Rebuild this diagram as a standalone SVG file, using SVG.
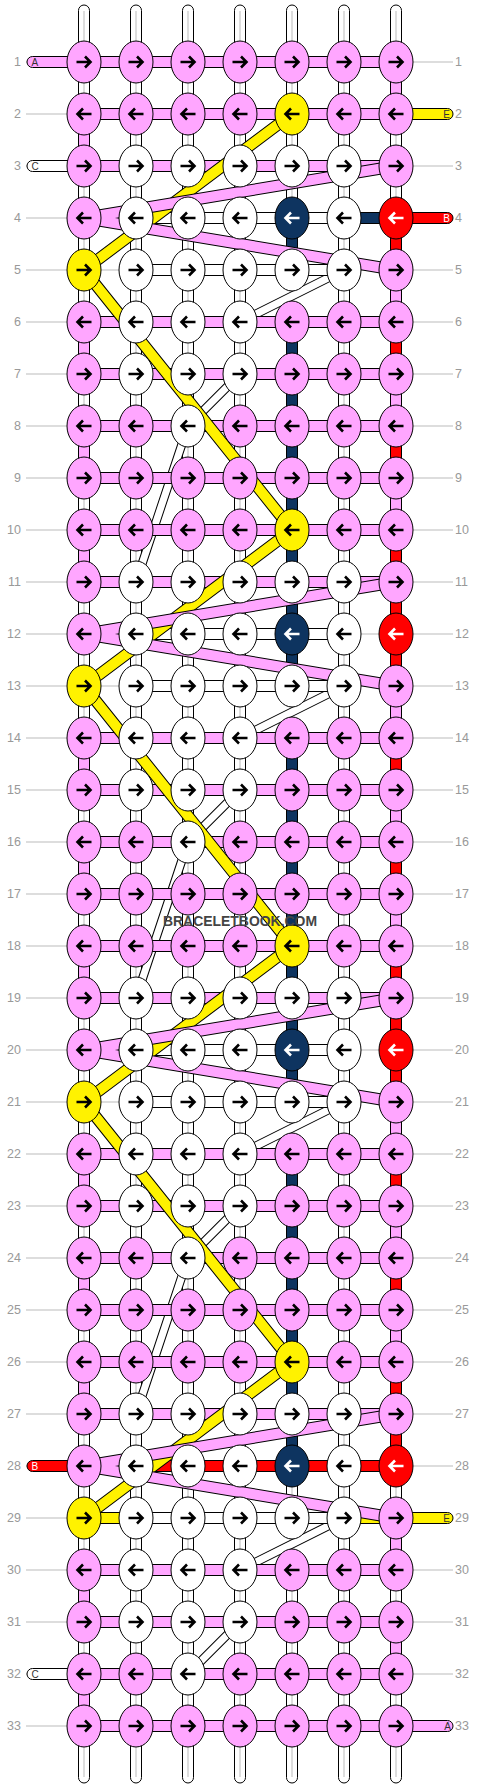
<svg xmlns="http://www.w3.org/2000/svg" width="480" height="1788" viewBox="0 0 480 1788">
<style>
.gl{stroke:#bbb;stroke-width:1;fill:none}
.n{font-family:"Liberation Sans",Arial,sans-serif;font-size:12.5px;fill:#999}
.nl{text-anchor:end}
.k{stroke:#000;stroke-width:1}
.p{fill:#ffa6ff}
.w{fill:#fff}
.y{fill:#fff200}
.d{fill:#0e3460}
.r{fill:#ff0000}
.lb{font-family:"Liberation Sans",Arial,sans-serif;font-size:10px;fill:#333}
.lw{fill:#fff}
.le{text-anchor:end}
ellipse{stroke:#000;stroke-width:1}
use{stroke:#000}
use.aw{stroke:#fff}
.cl{stroke:#bbb;stroke-width:1}
.yo{fill:none;stroke:#000;stroke-width:12;stroke-linejoin:round}
.yf{fill:none;stroke:#fff200;stroke-width:10;stroke-linejoin:round}
.po{fill:none;stroke:#000;stroke-width:12;stroke-linejoin:round}
.pf{fill:none;stroke:#ffa6ff;stroke-width:10;stroke-linejoin:round}
.to{fill:none;stroke:#000;stroke-width:9;stroke-linejoin:round}
.tf{fill:none;stroke:#fff;stroke-width:7;stroke-linejoin:round}
.wm{font-family:"Liberation Sans",Arial,sans-serif;font-weight:bold;font-size:15px;fill:#444}
</style>
<defs>
<path id="R" d="M-7.5,0H6M1,-5.5L6.5,0L1,5.5" fill="none" stroke-width="2.6"/>
<path id="L" d="M7.5,0H-6M-1,-5.5L-6.5,0L-1,5.5" fill="none" stroke-width="2.6"/>
</defs>
<rect width="480" height="1788" fill="#fff"/>
<g id="rowlines">
<path class="gl" d="M26,62H453M26,114H453M26,166H453M26,218H453M26,270H453M26,322H453M26,374H453M26,426H453M26,478H453M26,530H453M26,582H453M26,634H453M26,686H453M26,738H453M26,790H453M26,842H453M26,894H453M26,946H453M26,998H453M26,1050H453M26,1102H453M26,1154H453M26,1206H453M26,1258H453M26,1310H453M26,1362H453M26,1414H453M26,1466H453M26,1518H453M26,1570H453M26,1622H453M26,1674H453M26,1726H453"/>
</g>
<g id="rownumbers" class="n">
<g class="nl">
<text x="21" y="66">1</text><text x="21" y="118">2</text><text x="21" y="170">3</text><text x="21" y="222">4</text><text x="21" y="274">5</text><text x="21" y="326">6</text><text x="21" y="378">7</text><text x="21" y="430">8</text><text x="21" y="482">9</text><text x="21" y="534">10</text><text x="21" y="586">11</text><text x="21" y="638">12</text><text x="21" y="690">13</text><text x="21" y="742">14</text><text x="21" y="794">15</text><text x="21" y="846">16</text><text x="21" y="898">17</text><text x="21" y="950">18</text><text x="21" y="1002">19</text><text x="21" y="1054">20</text><text x="21" y="1106">21</text><text x="21" y="1158">22</text><text x="21" y="1210">23</text><text x="21" y="1262">24</text><text x="21" y="1314">25</text><text x="21" y="1366">26</text><text x="21" y="1418">27</text><text x="21" y="1470">28</text><text x="21" y="1522">29</text><text x="21" y="1574">30</text><text x="21" y="1626">31</text><text x="21" y="1678">32</text><text x="21" y="1730">33</text>
</g>
<text x="455" y="66">1</text><text x="455" y="118">2</text><text x="455" y="170">3</text><text x="455" y="222">4</text><text x="455" y="274">5</text><text x="455" y="326">6</text><text x="455" y="378">7</text><text x="455" y="430">8</text><text x="455" y="482">9</text><text x="455" y="534">10</text><text x="455" y="586">11</text><text x="455" y="638">12</text><text x="455" y="690">13</text><text x="455" y="742">14</text><text x="455" y="794">15</text><text x="455" y="846">16</text><text x="455" y="898">17</text><text x="455" y="950">18</text><text x="455" y="1002">19</text><text x="455" y="1054">20</text><text x="455" y="1106">21</text><text x="455" y="1158">22</text><text x="455" y="1210">23</text><text x="455" y="1262">24</text><text x="455" y="1314">25</text><text x="455" y="1366">26</text><text x="455" y="1418">27</text><text x="455" y="1470">28</text><text x="455" y="1522">29</text><text x="455" y="1574">30</text><text x="455" y="1626">31</text><text x="455" y="1678">32</text><text x="455" y="1730">33</text>
</g>
<g id="connectors">
<g id="strands">
<rect class="w k" x="78.5" y="5" width="11" height="1778" rx="5.5"/>
<rect class="w k" x="130.5" y="5" width="11" height="1778" rx="5.5"/>
<rect class="w k" x="182.5" y="5" width="11" height="1778" rx="5.5"/>
<rect class="w k" x="234.5" y="5" width="11" height="1778" rx="5.5"/>
<rect class="w k" x="286.5" y="5" width="11" height="1778" rx="5.5"/>
<rect class="w k" x="338.5" y="5" width="11" height="1778" rx="5.5"/>
<rect class="w k" x="390.5" y="5" width="11" height="1778" rx="5.5"/>
<path class="cl" d="M84,11V1777M136,11V1777M188,11V1777M240,11V1777M292,11V1777M344,11V1777M396,11V1777"/>
<g fill="#fff">
<rect x="285" y="289" width="14" height="14"/><rect x="285" y="705" width="14" height="14"/><rect x="285" y="1121" width="14" height="14"/><rect x="285" y="1537" width="14" height="14"/>
</g>
</g>
<g id="white-diagonals">
<path class="to" d="M344,270L240,322M240,374L188,426L136,582M344,686L240,738M240,790L188,842L136,998M344,1102L240,1154M240,1206L188,1258L136,1414M344,1518L240,1570M240,1622L188,1674"/>
<path class="tf" d="M344,270L240,322M240,374L188,426L136,582M344,686L240,738M240,790L188,842L136,998M344,1102L240,1154M240,1206L188,1258L136,1414M344,1518L240,1570M240,1622L188,1674"/>
</g>
<g id="vertical-colored" class="k">
<g class="p">
<rect x="78.5" y="129" width="11" height="22"/><rect x="78.5" y="337" width="11" height="22"/><rect x="78.5" y="441" width="11" height="22"/><rect x="78.5" y="545" width="11" height="22"/><rect x="78.5" y="753" width="11" height="22"/><rect x="78.5" y="857" width="11" height="22"/><rect x="78.5" y="961" width="11" height="22"/><rect x="78.5" y="1169" width="11" height="22"/><rect x="78.5" y="1273" width="11" height="22"/><rect x="78.5" y="1377" width="11" height="22"/><rect x="78.5" y="1585" width="11" height="22"/><rect x="78.5" y="1689" width="11" height="22"/>
<rect x="390.5" y="77" width="11" height="22"/><rect x="390.5" y="285" width="11" height="22"/><rect x="390.5" y="389" width="11" height="22"/><rect x="390.5" y="493" width="11" height="22"/><rect x="390.5" y="701" width="11" height="22"/><rect x="390.5" y="805" width="11" height="22"/><rect x="390.5" y="909" width="11" height="22"/><rect x="390.5" y="1117" width="11" height="22"/><rect x="390.5" y="1221" width="11" height="22"/><rect x="390.5" y="1325" width="11" height="22"/><rect x="390.5" y="1533" width="11" height="22"/><rect x="390.5" y="1637" width="11" height="22"/>
</g>
<g class="d">
<rect x="286.5" y="233" width="11" height="22"/><rect x="286.5" y="337" width="11" height="22"/><rect x="286.5" y="389" width="11" height="22"/><rect x="286.5" y="441" width="11" height="22"/><rect x="286.5" y="493" width="11" height="22"/><rect x="286.5" y="545" width="11" height="22"/><rect x="286.5" y="597" width="11" height="22"/><rect x="286.5" y="649" width="11" height="22"/><rect x="286.5" y="753" width="11" height="22"/><rect x="286.5" y="805" width="11" height="22"/><rect x="286.5" y="857" width="11" height="22"/><rect x="286.5" y="909" width="11" height="22"/><rect x="286.5" y="961" width="11" height="22"/><rect x="286.5" y="1013" width="11" height="22"/><rect x="286.5" y="1065" width="11" height="22"/><rect x="286.5" y="1169" width="11" height="22"/><rect x="286.5" y="1221" width="11" height="22"/><rect x="286.5" y="1273" width="11" height="22"/><rect x="286.5" y="1325" width="11" height="22"/><rect x="286.5" y="1377" width="11" height="22"/><rect x="286.5" y="1429" width="11" height="22"/>
</g>
<g class="r">
<rect x="390.5" y="233" width="11" height="22"/><rect x="390.5" y="337" width="11" height="22"/><rect x="390.5" y="441" width="11" height="22"/><rect x="390.5" y="545" width="11" height="22"/><rect x="390.5" y="597" width="11" height="22"/><rect x="390.5" y="649" width="11" height="22"/><rect x="390.5" y="753" width="11" height="22"/><rect x="390.5" y="857" width="11" height="22"/><rect x="390.5" y="961" width="11" height="22"/><rect x="390.5" y="1013" width="11" height="22"/><rect x="390.5" y="1065" width="11" height="22"/><rect x="390.5" y="1169" width="11" height="22"/><rect x="390.5" y="1273" width="11" height="22"/><rect x="390.5" y="1377" width="11" height="22"/><rect x="390.5" y="1429" width="11" height="22"/>
</g>
</g>
<g id="horizontal" class="k">
<g class="p">
<rect x="95" y="56.5" width="290" height="11"/><rect x="95" y="108.5" width="290" height="11"/><rect x="95" y="160.5" width="290" height="11"/><rect x="95" y="316.5" width="290" height="11"/><rect x="95" y="368.5" width="290" height="11"/><rect x="95" y="420.5" width="290" height="11"/><rect x="95" y="472.5" width="290" height="11"/><rect x="95" y="524.5" width="290" height="11"/><rect x="95" y="576.5" width="290" height="11"/><rect x="95" y="732.5" width="290" height="11"/><rect x="95" y="784.5" width="290" height="11"/><rect x="95" y="836.5" width="290" height="11"/><rect x="95" y="888.5" width="290" height="11"/><rect x="95" y="940.5" width="290" height="11"/><rect x="95" y="992.5" width="290" height="11"/><rect x="95" y="1148.5" width="290" height="11"/><rect x="95" y="1200.5" width="290" height="11"/><rect x="95" y="1252.5" width="290" height="11"/><rect x="95" y="1304.5" width="290" height="11"/><rect x="95" y="1356.5" width="290" height="11"/><rect x="95" y="1408.5" width="290" height="11"/><rect x="95" y="1564.5" width="290" height="11"/><rect x="95" y="1616.5" width="290" height="11"/><rect x="95" y="1668.5" width="290" height="11"/><rect x="95" y="1720.5" width="290" height="11"/>
<rect x="99" y="212.5" width="22" height="11"/><rect x="99" y="628.5" width="22" height="11"/><rect x="99" y="1044.5" width="22" height="11"/><rect x="99" y="1460.5" width="22" height="11"/>
</g>
<g class="w">
<rect x="151" y="212.5" width="22" height="11"/><rect x="203" y="212.5" width="22" height="11"/><rect x="255" y="212.5" width="22" height="11"/><rect x="307" y="212.5" width="22" height="11"/>
<rect x="151" y="628.5" width="22" height="11"/><rect x="203" y="628.5" width="22" height="11"/><rect x="255" y="628.5" width="22" height="11"/><rect x="307" y="628.5" width="22" height="11"/>
<rect x="151" y="1044.5" width="22" height="11"/><rect x="203" y="1044.5" width="22" height="11"/><rect x="255" y="1044.5" width="22" height="11"/><rect x="307" y="1044.5" width="22" height="11"/>
<rect x="151" y="264.5" width="22" height="11"/><rect x="203" y="264.5" width="22" height="11"/><rect x="255" y="264.5" width="22" height="11"/><rect x="307" y="264.5" width="22" height="11"/>
<rect x="151" y="680.5" width="22" height="11"/><rect x="203" y="680.5" width="22" height="11"/><rect x="255" y="680.5" width="22" height="11"/><rect x="307" y="680.5" width="22" height="11"/>
<rect x="151" y="1096.5" width="22" height="11"/><rect x="203" y="1096.5" width="22" height="11"/><rect x="255" y="1096.5" width="22" height="11"/><rect x="307" y="1096.5" width="22" height="11"/>
<rect x="151" y="1512.5" width="22" height="11"/><rect x="203" y="1512.5" width="22" height="11"/><rect x="255" y="1512.5" width="22" height="11"/><rect x="307" y="1512.5" width="22" height="11"/>
</g>
<rect class="d" x="359" y="212.5" width="22" height="11"/>
<g class="r">
<rect x="151" y="1460.5" width="22" height="11"/><rect x="203" y="1460.5" width="22" height="11"/><rect x="255" y="1460.5" width="22" height="11"/><rect x="307" y="1460.5" width="22" height="11"/><rect x="359" y="1460.5" width="22" height="11"/>
</g>
<g class="y">
<rect x="99" y="1512.5" width="22" height="11"/><rect x="359" y="1512.5" width="22" height="11"/>
</g>
</g>
<g id="edge-threads">
<rect class="p k" x="27" y="56.5" width="50" height="11" rx="5.5"/><text class="lb" x="31.5" y="65.5">A</text>
<rect class="y k" x="403" y="108.5" width="50" height="11" rx="5.5"/><text class="lb le" x="450" y="117.5">E</text>
<rect class="w k" x="27" y="160.5" width="50" height="11" rx="5.5"/><text class="lb" x="31.5" y="169.5">C</text>
<rect class="r k" x="403" y="212.5" width="50" height="11" rx="5.5"/><text class="lb le lw" x="450" y="221.5">B</text>
<rect class="r k" x="27" y="1460.5" width="50" height="11" rx="5.5"/><text class="lb lw" x="31.5" y="1469.5">B</text>
<rect class="y k" x="403" y="1512.5" width="50" height="11" rx="5.5"/><text class="lb le" x="450" y="1521.5">E</text>
<rect class="w k" x="27" y="1668.5" width="50" height="11" rx="5.5"/><text class="lb" x="31.5" y="1677.5">C</text>
<rect class="p k" x="403" y="1720.5" width="50" height="11" rx="5.5"/><text class="lb le" x="451" y="1729.5">A</text>
</g>
<g id="yellow-diagonals">
<path class="yo" d="M292,114L84,270L292,530L84,686L292,946L84,1102L292,1362L84,1518"/>
<path class="yf" d="M292,114L84,270L292,530L84,686L292,946L84,1102L292,1362L84,1518"/>
</g>
<g id="pink-diagonals">
<path class="po" d="M396,166L84,218L396,270M396,582L84,634L396,686M396,998L84,1050L396,1102M396,1414L84,1466L396,1518"/>
<path class="pf" d="M396,166L84,218L396,270M396,582L84,634L396,686M396,998L84,1050L396,1102M396,1414L84,1466L396,1518"/>
</g>
</g>
<g id="knots">
<g id="k1-1" transform="translate(84,62)"><ellipse class="p" rx="17" ry="21"/><use href="#R"/></g>
<g id="k1-2" transform="translate(136,62)"><ellipse class="p" rx="17" ry="21"/><use href="#R"/></g>
<g id="k1-3" transform="translate(188,62)"><ellipse class="p" rx="17" ry="21"/><use href="#R"/></g>
<g id="k1-4" transform="translate(240,62)"><ellipse class="p" rx="17" ry="21"/><use href="#R"/></g>
<g id="k1-5" transform="translate(292,62)"><ellipse class="p" rx="17" ry="21"/><use href="#R"/></g>
<g id="k1-6" transform="translate(344,62)"><ellipse class="p" rx="17" ry="21"/><use href="#R"/></g>
<g id="k1-7" transform="translate(396,62)"><ellipse class="p" rx="17" ry="21"/><use href="#R"/></g>
<g id="k2-1" transform="translate(84,114)"><ellipse class="p" rx="17" ry="21"/><use href="#L"/></g>
<g id="k2-2" transform="translate(136,114)"><ellipse class="p" rx="17" ry="21"/><use href="#L"/></g>
<g id="k2-3" transform="translate(188,114)"><ellipse class="p" rx="17" ry="21"/><use href="#L"/></g>
<g id="k2-4" transform="translate(240,114)"><ellipse class="p" rx="17" ry="21"/><use href="#L"/></g>
<g id="k2-5" transform="translate(292,114)"><ellipse class="y" rx="17" ry="21"/><use href="#L"/></g>
<g id="k2-6" transform="translate(344,114)"><ellipse class="p" rx="17" ry="21"/><use href="#L"/></g>
<g id="k2-7" transform="translate(396,114)"><ellipse class="p" rx="17" ry="21"/><use href="#L"/></g>
<g id="k3-1" transform="translate(84,166)"><ellipse class="p" rx="17" ry="21"/><use href="#R"/></g>
<g id="k3-2" transform="translate(136,166)"><ellipse class="w" rx="17" ry="21"/><use href="#R"/></g>
<g id="k3-3" transform="translate(188,166)"><ellipse class="w" rx="17" ry="21"/><use href="#R"/></g>
<g id="k3-4" transform="translate(240,166)"><ellipse class="w" rx="17" ry="21"/><use href="#R"/></g>
<g id="k3-5" transform="translate(292,166)"><ellipse class="w" rx="17" ry="21"/><use href="#R"/></g>
<g id="k3-6" transform="translate(344,166)"><ellipse class="w" rx="17" ry="21"/><use href="#R"/></g>
<g id="k3-7" transform="translate(396,166)"><ellipse class="p" rx="17" ry="21"/><use href="#R"/></g>
<g id="k4-1" transform="translate(84,218)"><ellipse class="p" rx="17" ry="21"/><use href="#L"/></g>
<g id="k4-2" transform="translate(136,218)"><ellipse class="w" rx="17" ry="21"/><use href="#L"/></g>
<g id="k4-3" transform="translate(188,218)"><ellipse class="w" rx="17" ry="21"/><use href="#L"/></g>
<g id="k4-4" transform="translate(240,218)"><ellipse class="w" rx="17" ry="21"/><use href="#L"/></g>
<g id="k4-5" transform="translate(292,218)"><ellipse class="d" rx="17" ry="21"/><use class="aw" href="#L"/></g>
<g id="k4-6" transform="translate(344,218)"><ellipse class="w" rx="17" ry="21"/><use href="#L"/></g>
<g id="k4-7" transform="translate(396,218)"><ellipse class="r" rx="17" ry="21"/><use class="aw" href="#L"/></g>
<g id="k5-1" transform="translate(84,270)"><ellipse class="y" rx="17" ry="21"/><use href="#R"/></g>
<g id="k5-2" transform="translate(136,270)"><ellipse class="w" rx="17" ry="21"/><use href="#R"/></g>
<g id="k5-3" transform="translate(188,270)"><ellipse class="w" rx="17" ry="21"/><use href="#R"/></g>
<g id="k5-4" transform="translate(240,270)"><ellipse class="w" rx="17" ry="21"/><use href="#R"/></g>
<g id="k5-5" transform="translate(292,270)"><ellipse class="w" rx="17" ry="21"/><use href="#R"/></g>
<g id="k5-6" transform="translate(344,270)"><ellipse class="w" rx="17" ry="21"/><use href="#R"/></g>
<g id="k5-7" transform="translate(396,270)"><ellipse class="p" rx="17" ry="21"/><use href="#R"/></g>
<g id="k6-1" transform="translate(84,322)"><ellipse class="p" rx="17" ry="21"/><use href="#L"/></g>
<g id="k6-2" transform="translate(136,322)"><ellipse class="w" rx="17" ry="21"/><use href="#L"/></g>
<g id="k6-3" transform="translate(188,322)"><ellipse class="w" rx="17" ry="21"/><use href="#L"/></g>
<g id="k6-4" transform="translate(240,322)"><ellipse class="w" rx="17" ry="21"/><use href="#L"/></g>
<g id="k6-5" transform="translate(292,322)"><ellipse class="p" rx="17" ry="21"/><use href="#L"/></g>
<g id="k6-6" transform="translate(344,322)"><ellipse class="p" rx="17" ry="21"/><use href="#L"/></g>
<g id="k6-7" transform="translate(396,322)"><ellipse class="p" rx="17" ry="21"/><use href="#L"/></g>
<g id="k7-1" transform="translate(84,374)"><ellipse class="p" rx="17" ry="21"/><use href="#R"/></g>
<g id="k7-2" transform="translate(136,374)"><ellipse class="w" rx="17" ry="21"/><use href="#R"/></g>
<g id="k7-3" transform="translate(188,374)"><ellipse class="w" rx="17" ry="21"/><use href="#R"/></g>
<g id="k7-4" transform="translate(240,374)"><ellipse class="w" rx="17" ry="21"/><use href="#R"/></g>
<g id="k7-5" transform="translate(292,374)"><ellipse class="p" rx="17" ry="21"/><use href="#R"/></g>
<g id="k7-6" transform="translate(344,374)"><ellipse class="p" rx="17" ry="21"/><use href="#R"/></g>
<g id="k7-7" transform="translate(396,374)"><ellipse class="p" rx="17" ry="21"/><use href="#R"/></g>
<g id="k8-1" transform="translate(84,426)"><ellipse class="p" rx="17" ry="21"/><use href="#L"/></g>
<g id="k8-2" transform="translate(136,426)"><ellipse class="p" rx="17" ry="21"/><use href="#L"/></g>
<g id="k8-3" transform="translate(188,426)"><ellipse class="w" rx="17" ry="21"/><use href="#L"/></g>
<g id="k8-4" transform="translate(240,426)"><ellipse class="p" rx="17" ry="21"/><use href="#L"/></g>
<g id="k8-5" transform="translate(292,426)"><ellipse class="p" rx="17" ry="21"/><use href="#L"/></g>
<g id="k8-6" transform="translate(344,426)"><ellipse class="p" rx="17" ry="21"/><use href="#L"/></g>
<g id="k8-7" transform="translate(396,426)"><ellipse class="p" rx="17" ry="21"/><use href="#L"/></g>
<g id="k9-1" transform="translate(84,478)"><ellipse class="p" rx="17" ry="21"/><use href="#R"/></g>
<g id="k9-2" transform="translate(136,478)"><ellipse class="p" rx="17" ry="21"/><use href="#R"/></g>
<g id="k9-3" transform="translate(188,478)"><ellipse class="p" rx="17" ry="21"/><use href="#R"/></g>
<g id="k9-4" transform="translate(240,478)"><ellipse class="p" rx="17" ry="21"/><use href="#R"/></g>
<g id="k9-5" transform="translate(292,478)"><ellipse class="p" rx="17" ry="21"/><use href="#R"/></g>
<g id="k9-6" transform="translate(344,478)"><ellipse class="p" rx="17" ry="21"/><use href="#R"/></g>
<g id="k9-7" transform="translate(396,478)"><ellipse class="p" rx="17" ry="21"/><use href="#R"/></g>
<g id="k10-1" transform="translate(84,530)"><ellipse class="p" rx="17" ry="21"/><use href="#L"/></g>
<g id="k10-2" transform="translate(136,530)"><ellipse class="p" rx="17" ry="21"/><use href="#L"/></g>
<g id="k10-3" transform="translate(188,530)"><ellipse class="p" rx="17" ry="21"/><use href="#L"/></g>
<g id="k10-4" transform="translate(240,530)"><ellipse class="p" rx="17" ry="21"/><use href="#L"/></g>
<g id="k10-5" transform="translate(292,530)"><ellipse class="y" rx="17" ry="21"/><use href="#L"/></g>
<g id="k10-6" transform="translate(344,530)"><ellipse class="p" rx="17" ry="21"/><use href="#L"/></g>
<g id="k10-7" transform="translate(396,530)"><ellipse class="p" rx="17" ry="21"/><use href="#L"/></g>
<g id="k11-1" transform="translate(84,582)"><ellipse class="p" rx="17" ry="21"/><use href="#R"/></g>
<g id="k11-2" transform="translate(136,582)"><ellipse class="w" rx="17" ry="21"/><use href="#R"/></g>
<g id="k11-3" transform="translate(188,582)"><ellipse class="w" rx="17" ry="21"/><use href="#R"/></g>
<g id="k11-4" transform="translate(240,582)"><ellipse class="w" rx="17" ry="21"/><use href="#R"/></g>
<g id="k11-5" transform="translate(292,582)"><ellipse class="w" rx="17" ry="21"/><use href="#R"/></g>
<g id="k11-6" transform="translate(344,582)"><ellipse class="w" rx="17" ry="21"/><use href="#R"/></g>
<g id="k11-7" transform="translate(396,582)"><ellipse class="p" rx="17" ry="21"/><use href="#R"/></g>
<g id="k12-1" transform="translate(84,634)"><ellipse class="p" rx="17" ry="21"/><use href="#L"/></g>
<g id="k12-2" transform="translate(136,634)"><ellipse class="w" rx="17" ry="21"/><use href="#L"/></g>
<g id="k12-3" transform="translate(188,634)"><ellipse class="w" rx="17" ry="21"/><use href="#L"/></g>
<g id="k12-4" transform="translate(240,634)"><ellipse class="w" rx="17" ry="21"/><use href="#L"/></g>
<g id="k12-5" transform="translate(292,634)"><ellipse class="d" rx="17" ry="21"/><use class="aw" href="#L"/></g>
<g id="k12-6" transform="translate(344,634)"><ellipse class="w" rx="17" ry="21"/><use href="#L"/></g>
<g id="k12-7" transform="translate(396,634)"><ellipse class="r" rx="17" ry="21"/><use class="aw" href="#L"/></g>
<g id="k13-1" transform="translate(84,686)"><ellipse class="y" rx="17" ry="21"/><use href="#R"/></g>
<g id="k13-2" transform="translate(136,686)"><ellipse class="w" rx="17" ry="21"/><use href="#R"/></g>
<g id="k13-3" transform="translate(188,686)"><ellipse class="w" rx="17" ry="21"/><use href="#R"/></g>
<g id="k13-4" transform="translate(240,686)"><ellipse class="w" rx="17" ry="21"/><use href="#R"/></g>
<g id="k13-5" transform="translate(292,686)"><ellipse class="w" rx="17" ry="21"/><use href="#R"/></g>
<g id="k13-6" transform="translate(344,686)"><ellipse class="w" rx="17" ry="21"/><use href="#R"/></g>
<g id="k13-7" transform="translate(396,686)"><ellipse class="p" rx="17" ry="21"/><use href="#R"/></g>
<g id="k14-1" transform="translate(84,738)"><ellipse class="p" rx="17" ry="21"/><use href="#L"/></g>
<g id="k14-2" transform="translate(136,738)"><ellipse class="w" rx="17" ry="21"/><use href="#L"/></g>
<g id="k14-3" transform="translate(188,738)"><ellipse class="w" rx="17" ry="21"/><use href="#L"/></g>
<g id="k14-4" transform="translate(240,738)"><ellipse class="w" rx="17" ry="21"/><use href="#L"/></g>
<g id="k14-5" transform="translate(292,738)"><ellipse class="p" rx="17" ry="21"/><use href="#L"/></g>
<g id="k14-6" transform="translate(344,738)"><ellipse class="p" rx="17" ry="21"/><use href="#L"/></g>
<g id="k14-7" transform="translate(396,738)"><ellipse class="p" rx="17" ry="21"/><use href="#L"/></g>
<g id="k15-1" transform="translate(84,790)"><ellipse class="p" rx="17" ry="21"/><use href="#R"/></g>
<g id="k15-2" transform="translate(136,790)"><ellipse class="w" rx="17" ry="21"/><use href="#R"/></g>
<g id="k15-3" transform="translate(188,790)"><ellipse class="w" rx="17" ry="21"/><use href="#R"/></g>
<g id="k15-4" transform="translate(240,790)"><ellipse class="w" rx="17" ry="21"/><use href="#R"/></g>
<g id="k15-5" transform="translate(292,790)"><ellipse class="p" rx="17" ry="21"/><use href="#R"/></g>
<g id="k15-6" transform="translate(344,790)"><ellipse class="p" rx="17" ry="21"/><use href="#R"/></g>
<g id="k15-7" transform="translate(396,790)"><ellipse class="p" rx="17" ry="21"/><use href="#R"/></g>
<g id="k16-1" transform="translate(84,842)"><ellipse class="p" rx="17" ry="21"/><use href="#L"/></g>
<g id="k16-2" transform="translate(136,842)"><ellipse class="p" rx="17" ry="21"/><use href="#L"/></g>
<g id="k16-3" transform="translate(188,842)"><ellipse class="w" rx="17" ry="21"/><use href="#L"/></g>
<g id="k16-4" transform="translate(240,842)"><ellipse class="p" rx="17" ry="21"/><use href="#L"/></g>
<g id="k16-5" transform="translate(292,842)"><ellipse class="p" rx="17" ry="21"/><use href="#L"/></g>
<g id="k16-6" transform="translate(344,842)"><ellipse class="p" rx="17" ry="21"/><use href="#L"/></g>
<g id="k16-7" transform="translate(396,842)"><ellipse class="p" rx="17" ry="21"/><use href="#L"/></g>
<g id="k17-1" transform="translate(84,894)"><ellipse class="p" rx="17" ry="21"/><use href="#R"/></g>
<g id="k17-2" transform="translate(136,894)"><ellipse class="p" rx="17" ry="21"/><use href="#R"/></g>
<g id="k17-3" transform="translate(188,894)"><ellipse class="p" rx="17" ry="21"/><use href="#R"/></g>
<g id="k17-4" transform="translate(240,894)"><ellipse class="p" rx="17" ry="21"/><use href="#R"/></g>
<g id="k17-5" transform="translate(292,894)"><ellipse class="p" rx="17" ry="21"/><use href="#R"/></g>
<g id="k17-6" transform="translate(344,894)"><ellipse class="p" rx="17" ry="21"/><use href="#R"/></g>
<g id="k17-7" transform="translate(396,894)"><ellipse class="p" rx="17" ry="21"/><use href="#R"/></g>
<g id="k18-1" transform="translate(84,946)"><ellipse class="p" rx="17" ry="21"/><use href="#L"/></g>
<g id="k18-2" transform="translate(136,946)"><ellipse class="p" rx="17" ry="21"/><use href="#L"/></g>
<g id="k18-3" transform="translate(188,946)"><ellipse class="p" rx="17" ry="21"/><use href="#L"/></g>
<g id="k18-4" transform="translate(240,946)"><ellipse class="p" rx="17" ry="21"/><use href="#L"/></g>
<g id="k18-5" transform="translate(292,946)"><ellipse class="y" rx="17" ry="21"/><use href="#L"/></g>
<g id="k18-6" transform="translate(344,946)"><ellipse class="p" rx="17" ry="21"/><use href="#L"/></g>
<g id="k18-7" transform="translate(396,946)"><ellipse class="p" rx="17" ry="21"/><use href="#L"/></g>
<g id="k19-1" transform="translate(84,998)"><ellipse class="p" rx="17" ry="21"/><use href="#R"/></g>
<g id="k19-2" transform="translate(136,998)"><ellipse class="w" rx="17" ry="21"/><use href="#R"/></g>
<g id="k19-3" transform="translate(188,998)"><ellipse class="w" rx="17" ry="21"/><use href="#R"/></g>
<g id="k19-4" transform="translate(240,998)"><ellipse class="w" rx="17" ry="21"/><use href="#R"/></g>
<g id="k19-5" transform="translate(292,998)"><ellipse class="w" rx="17" ry="21"/><use href="#R"/></g>
<g id="k19-6" transform="translate(344,998)"><ellipse class="w" rx="17" ry="21"/><use href="#R"/></g>
<g id="k19-7" transform="translate(396,998)"><ellipse class="p" rx="17" ry="21"/><use href="#R"/></g>
<g id="k20-1" transform="translate(84,1050)"><ellipse class="p" rx="17" ry="21"/><use href="#L"/></g>
<g id="k20-2" transform="translate(136,1050)"><ellipse class="w" rx="17" ry="21"/><use href="#L"/></g>
<g id="k20-3" transform="translate(188,1050)"><ellipse class="w" rx="17" ry="21"/><use href="#L"/></g>
<g id="k20-4" transform="translate(240,1050)"><ellipse class="w" rx="17" ry="21"/><use href="#L"/></g>
<g id="k20-5" transform="translate(292,1050)"><ellipse class="d" rx="17" ry="21"/><use class="aw" href="#L"/></g>
<g id="k20-6" transform="translate(344,1050)"><ellipse class="w" rx="17" ry="21"/><use href="#L"/></g>
<g id="k20-7" transform="translate(396,1050)"><ellipse class="r" rx="17" ry="21"/><use class="aw" href="#L"/></g>
<g id="k21-1" transform="translate(84,1102)"><ellipse class="y" rx="17" ry="21"/><use href="#R"/></g>
<g id="k21-2" transform="translate(136,1102)"><ellipse class="w" rx="17" ry="21"/><use href="#R"/></g>
<g id="k21-3" transform="translate(188,1102)"><ellipse class="w" rx="17" ry="21"/><use href="#R"/></g>
<g id="k21-4" transform="translate(240,1102)"><ellipse class="w" rx="17" ry="21"/><use href="#R"/></g>
<g id="k21-5" transform="translate(292,1102)"><ellipse class="w" rx="17" ry="21"/><use href="#R"/></g>
<g id="k21-6" transform="translate(344,1102)"><ellipse class="w" rx="17" ry="21"/><use href="#R"/></g>
<g id="k21-7" transform="translate(396,1102)"><ellipse class="p" rx="17" ry="21"/><use href="#R"/></g>
<g id="k22-1" transform="translate(84,1154)"><ellipse class="p" rx="17" ry="21"/><use href="#L"/></g>
<g id="k22-2" transform="translate(136,1154)"><ellipse class="w" rx="17" ry="21"/><use href="#L"/></g>
<g id="k22-3" transform="translate(188,1154)"><ellipse class="w" rx="17" ry="21"/><use href="#L"/></g>
<g id="k22-4" transform="translate(240,1154)"><ellipse class="w" rx="17" ry="21"/><use href="#L"/></g>
<g id="k22-5" transform="translate(292,1154)"><ellipse class="p" rx="17" ry="21"/><use href="#L"/></g>
<g id="k22-6" transform="translate(344,1154)"><ellipse class="p" rx="17" ry="21"/><use href="#L"/></g>
<g id="k22-7" transform="translate(396,1154)"><ellipse class="p" rx="17" ry="21"/><use href="#L"/></g>
<g id="k23-1" transform="translate(84,1206)"><ellipse class="p" rx="17" ry="21"/><use href="#R"/></g>
<g id="k23-2" transform="translate(136,1206)"><ellipse class="w" rx="17" ry="21"/><use href="#R"/></g>
<g id="k23-3" transform="translate(188,1206)"><ellipse class="w" rx="17" ry="21"/><use href="#R"/></g>
<g id="k23-4" transform="translate(240,1206)"><ellipse class="w" rx="17" ry="21"/><use href="#R"/></g>
<g id="k23-5" transform="translate(292,1206)"><ellipse class="p" rx="17" ry="21"/><use href="#R"/></g>
<g id="k23-6" transform="translate(344,1206)"><ellipse class="p" rx="17" ry="21"/><use href="#R"/></g>
<g id="k23-7" transform="translate(396,1206)"><ellipse class="p" rx="17" ry="21"/><use href="#R"/></g>
<g id="k24-1" transform="translate(84,1258)"><ellipse class="p" rx="17" ry="21"/><use href="#L"/></g>
<g id="k24-2" transform="translate(136,1258)"><ellipse class="p" rx="17" ry="21"/><use href="#L"/></g>
<g id="k24-3" transform="translate(188,1258)"><ellipse class="w" rx="17" ry="21"/><use href="#L"/></g>
<g id="k24-4" transform="translate(240,1258)"><ellipse class="p" rx="17" ry="21"/><use href="#L"/></g>
<g id="k24-5" transform="translate(292,1258)"><ellipse class="p" rx="17" ry="21"/><use href="#L"/></g>
<g id="k24-6" transform="translate(344,1258)"><ellipse class="p" rx="17" ry="21"/><use href="#L"/></g>
<g id="k24-7" transform="translate(396,1258)"><ellipse class="p" rx="17" ry="21"/><use href="#L"/></g>
<g id="k25-1" transform="translate(84,1310)"><ellipse class="p" rx="17" ry="21"/><use href="#R"/></g>
<g id="k25-2" transform="translate(136,1310)"><ellipse class="p" rx="17" ry="21"/><use href="#R"/></g>
<g id="k25-3" transform="translate(188,1310)"><ellipse class="p" rx="17" ry="21"/><use href="#R"/></g>
<g id="k25-4" transform="translate(240,1310)"><ellipse class="p" rx="17" ry="21"/><use href="#R"/></g>
<g id="k25-5" transform="translate(292,1310)"><ellipse class="p" rx="17" ry="21"/><use href="#R"/></g>
<g id="k25-6" transform="translate(344,1310)"><ellipse class="p" rx="17" ry="21"/><use href="#R"/></g>
<g id="k25-7" transform="translate(396,1310)"><ellipse class="p" rx="17" ry="21"/><use href="#R"/></g>
<g id="k26-1" transform="translate(84,1362)"><ellipse class="p" rx="17" ry="21"/><use href="#L"/></g>
<g id="k26-2" transform="translate(136,1362)"><ellipse class="p" rx="17" ry="21"/><use href="#L"/></g>
<g id="k26-3" transform="translate(188,1362)"><ellipse class="p" rx="17" ry="21"/><use href="#L"/></g>
<g id="k26-4" transform="translate(240,1362)"><ellipse class="p" rx="17" ry="21"/><use href="#L"/></g>
<g id="k26-5" transform="translate(292,1362)"><ellipse class="y" rx="17" ry="21"/><use href="#L"/></g>
<g id="k26-6" transform="translate(344,1362)"><ellipse class="p" rx="17" ry="21"/><use href="#L"/></g>
<g id="k26-7" transform="translate(396,1362)"><ellipse class="p" rx="17" ry="21"/><use href="#L"/></g>
<g id="k27-1" transform="translate(84,1414)"><ellipse class="p" rx="17" ry="21"/><use href="#R"/></g>
<g id="k27-2" transform="translate(136,1414)"><ellipse class="w" rx="17" ry="21"/><use href="#R"/></g>
<g id="k27-3" transform="translate(188,1414)"><ellipse class="w" rx="17" ry="21"/><use href="#R"/></g>
<g id="k27-4" transform="translate(240,1414)"><ellipse class="w" rx="17" ry="21"/><use href="#R"/></g>
<g id="k27-5" transform="translate(292,1414)"><ellipse class="w" rx="17" ry="21"/><use href="#R"/></g>
<g id="k27-6" transform="translate(344,1414)"><ellipse class="w" rx="17" ry="21"/><use href="#R"/></g>
<g id="k27-7" transform="translate(396,1414)"><ellipse class="p" rx="17" ry="21"/><use href="#R"/></g>
<g id="k28-1" transform="translate(84,1466)"><ellipse class="p" rx="17" ry="21"/><use href="#L"/></g>
<g id="k28-2" transform="translate(136,1466)"><ellipse class="w" rx="17" ry="21"/><use href="#L"/></g>
<g id="k28-3" transform="translate(188,1466)"><ellipse class="w" rx="17" ry="21"/><use href="#L"/></g>
<g id="k28-4" transform="translate(240,1466)"><ellipse class="w" rx="17" ry="21"/><use href="#L"/></g>
<g id="k28-5" transform="translate(292,1466)"><ellipse class="d" rx="17" ry="21"/><use class="aw" href="#L"/></g>
<g id="k28-6" transform="translate(344,1466)"><ellipse class="w" rx="17" ry="21"/><use href="#L"/></g>
<g id="k28-7" transform="translate(396,1466)"><ellipse class="r" rx="17" ry="21"/><use class="aw" href="#L"/></g>
<g id="k29-1" transform="translate(84,1518)"><ellipse class="y" rx="17" ry="21"/><use href="#R"/></g>
<g id="k29-2" transform="translate(136,1518)"><ellipse class="w" rx="17" ry="21"/><use href="#R"/></g>
<g id="k29-3" transform="translate(188,1518)"><ellipse class="w" rx="17" ry="21"/><use href="#R"/></g>
<g id="k29-4" transform="translate(240,1518)"><ellipse class="w" rx="17" ry="21"/><use href="#R"/></g>
<g id="k29-5" transform="translate(292,1518)"><ellipse class="w" rx="17" ry="21"/><use href="#R"/></g>
<g id="k29-6" transform="translate(344,1518)"><ellipse class="w" rx="17" ry="21"/><use href="#R"/></g>
<g id="k29-7" transform="translate(396,1518)"><ellipse class="p" rx="17" ry="21"/><use href="#R"/></g>
<g id="k30-1" transform="translate(84,1570)"><ellipse class="p" rx="17" ry="21"/><use href="#L"/></g>
<g id="k30-2" transform="translate(136,1570)"><ellipse class="w" rx="17" ry="21"/><use href="#L"/></g>
<g id="k30-3" transform="translate(188,1570)"><ellipse class="w" rx="17" ry="21"/><use href="#L"/></g>
<g id="k30-4" transform="translate(240,1570)"><ellipse class="w" rx="17" ry="21"/><use href="#L"/></g>
<g id="k30-5" transform="translate(292,1570)"><ellipse class="p" rx="17" ry="21"/><use href="#L"/></g>
<g id="k30-6" transform="translate(344,1570)"><ellipse class="p" rx="17" ry="21"/><use href="#L"/></g>
<g id="k30-7" transform="translate(396,1570)"><ellipse class="p" rx="17" ry="21"/><use href="#L"/></g>
<g id="k31-1" transform="translate(84,1622)"><ellipse class="p" rx="17" ry="21"/><use href="#R"/></g>
<g id="k31-2" transform="translate(136,1622)"><ellipse class="w" rx="17" ry="21"/><use href="#R"/></g>
<g id="k31-3" transform="translate(188,1622)"><ellipse class="w" rx="17" ry="21"/><use href="#R"/></g>
<g id="k31-4" transform="translate(240,1622)"><ellipse class="w" rx="17" ry="21"/><use href="#R"/></g>
<g id="k31-5" transform="translate(292,1622)"><ellipse class="p" rx="17" ry="21"/><use href="#R"/></g>
<g id="k31-6" transform="translate(344,1622)"><ellipse class="p" rx="17" ry="21"/><use href="#R"/></g>
<g id="k31-7" transform="translate(396,1622)"><ellipse class="p" rx="17" ry="21"/><use href="#R"/></g>
<g id="k32-1" transform="translate(84,1674)"><ellipse class="p" rx="17" ry="21"/><use href="#L"/></g>
<g id="k32-2" transform="translate(136,1674)"><ellipse class="p" rx="17" ry="21"/><use href="#L"/></g>
<g id="k32-3" transform="translate(188,1674)"><ellipse class="w" rx="17" ry="21"/><use href="#L"/></g>
<g id="k32-4" transform="translate(240,1674)"><ellipse class="p" rx="17" ry="21"/><use href="#L"/></g>
<g id="k32-5" transform="translate(292,1674)"><ellipse class="p" rx="17" ry="21"/><use href="#L"/></g>
<g id="k32-6" transform="translate(344,1674)"><ellipse class="p" rx="17" ry="21"/><use href="#L"/></g>
<g id="k32-7" transform="translate(396,1674)"><ellipse class="p" rx="17" ry="21"/><use href="#L"/></g>
<g id="k33-1" transform="translate(84,1726)"><ellipse class="p" rx="17" ry="21"/><use href="#R"/></g>
<g id="k33-2" transform="translate(136,1726)"><ellipse class="p" rx="17" ry="21"/><use href="#R"/></g>
<g id="k33-3" transform="translate(188,1726)"><ellipse class="p" rx="17" ry="21"/><use href="#R"/></g>
<g id="k33-4" transform="translate(240,1726)"><ellipse class="p" rx="17" ry="21"/><use href="#R"/></g>
<g id="k33-5" transform="translate(292,1726)"><ellipse class="p" rx="17" ry="21"/><use href="#R"/></g>
<g id="k33-6" transform="translate(344,1726)"><ellipse class="p" rx="17" ry="21"/><use href="#R"/></g>
<g id="k33-7" transform="translate(396,1726)"><ellipse class="p" rx="17" ry="21"/><use href="#R"/></g>
</g>
<text class="wm" x="240" y="926" text-anchor="middle" textLength="154" lengthAdjust="spacingAndGlyphs">BRACELETBOOK.COM</text>
</svg>
